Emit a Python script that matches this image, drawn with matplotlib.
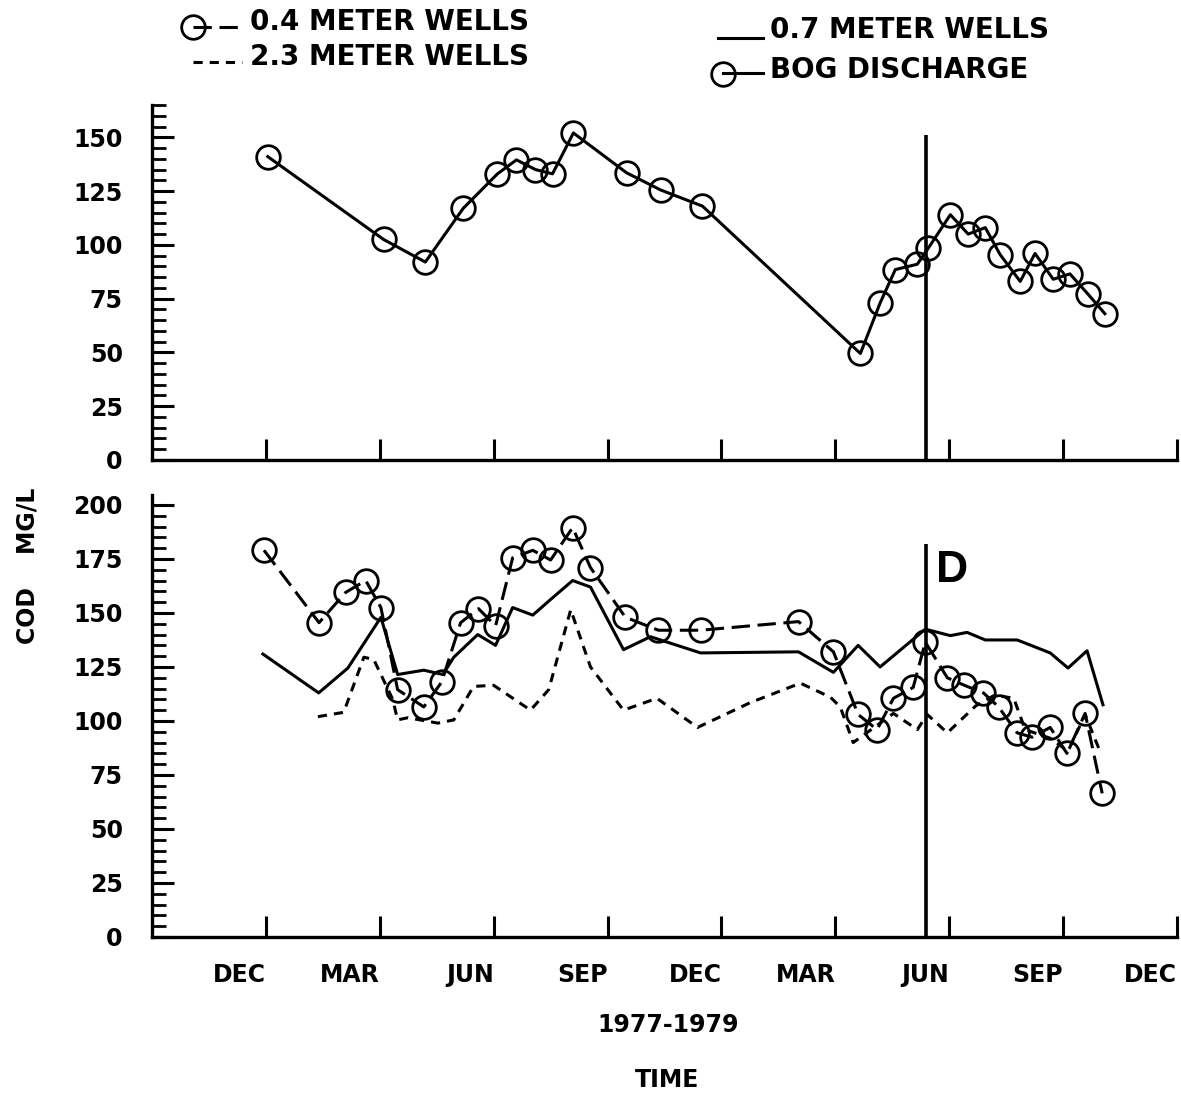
import matplotlib
matplotlib.use("Agg")
from matplotlib import pyplot as plt
from matplotlib.lines import Line2D
from matplotlib.ticker import MultipleLocator

plt.rcParams['font.family'] = 'DejaVu Sans'
plt.rcParams['font.weight'] = 'bold'

# months counted from the first DEC tick
month_ticks = [0, 3, 6, 9, 12, 15, 18, 21, 24]
month_labels = ['DEC', 'MAR', 'JUN', 'SEP', 'DEC', 'MAR', 'JUN', 'SEP', 'DEC']
event_month = 17.4  # "D"
event_top_bog = 151
event_top_wells = 182

# bog discharge (top panel)
bog_m = [0.05, 3.1, 4.2, 5.2, 6.1, 6.6, 7.1, 7.55, 8.1, 9.5, 10.4, 11.5, 15.66, 16.18,
         16.58, 17.16, 17.45, 18.03, 18.5, 18.95, 19.34, 19.87, 20.26, 20.74, 21.18, 21.66, 22.1]
bog_v = [141, 102.5, 92, 117, 133, 139.5, 135, 133, 152, 133.5, 125.5, 118, 49.5, 73,
         88.5, 91, 98.5, 114, 105, 108, 95.5, 83, 96, 84, 86.5, 77, 68]

# 0.4 meter wells
w04_m = [-0.05, 1.4, 2.1, 2.63, 3.03, 3.47, 4.16, 4.63, 5.13, 5.6, 6.05, 6.5, 7.03, 7.5,
         8.08, 8.55, 9.47, 10.34, 11.45, 14.03, 14.95, 15.6, 16.1, 16.53, 17.05, 17.37,
         17.95, 18.4, 18.9, 19.3, 19.79, 20.18, 20.66, 21.1, 21.58, 22.03]
w04_v = [179, 145.5, 159.5, 165, 152.5, 114.5, 106.5, 118, 145.5, 152, 144, 175.5, 179, 174.5,
         189.5, 171, 148, 142, 142, 146, 132, 103, 96, 110.5, 115.5, 136.5,
         120, 116.5, 113, 106.5, 94.5, 92.5, 97, 85, 103.5, 66.5]

# 0.7 meter wells
w07_m = [-0.08, 1.39, 2.16, 3.03, 3.47, 4.16, 4.66, 4.95, 5.58, 6.05, 6.5, 7.03, 7.55, 8.08,
         8.55, 9.42, 10.13, 11.45, 14.03, 14.95, 15.6, 16.18, 17.37, 18.03, 18.47, 18.95,
         19.79, 20.66, 21.13, 21.63, 22.05]
w07_v = [131, 113, 124.5, 148, 121.5, 123.5, 121.5, 129.5, 140, 135, 152.5, 149, 157, 165,
         162, 133, 139, 131.5, 132, 122.5, 135, 125, 142.5, 139.5, 141, 137.5,
         137.5, 131.5, 124.5, 132.5, 107.5]

# 2.3 meter wells
w23_m = [1.37, 2.05, 2.58, 2.84, 3.34, 3.47, 3.74, 4.53, 4.95, 5.47, 6.0, 6.97, 7.45, 8.03,
         8.55, 9.42, 10.3, 11.37, 12.76, 14.08, 14.87, 15.13, 15.47, 16.18, 16.53, 17.16,
         17.42, 17.95, 18.7, 19.2, 19.7, 20.0, 20.66, 21.13, 21.58, 21.97]
w23_v = [102, 104, 129.5, 128.5, 110, 100.5, 101.5, 99, 100.5, 116, 116.5, 105, 114.5, 151.5,
         125, 105, 110.5, 97, 108.5, 117.5, 111, 106.5, 90, 99, 103.5, 96,
         103, 94.5, 107, 112, 110.5, 96, 92, 86, 103, 86]

W, H = 1181, 1093
fig = plt.figure(figsize=(W / 100, H / 100), dpi=100)

LW = 2.2
DASH04 = (0, (6, 2.5))
DASH23 = (0, (3, 2.3))
circ = dict(marker='o', markersize=17, markerfacecolor='none', markeredgewidth=2.0,
            markeredgecolor='black')


def style_axes(ax, ymax, labels=True):
    ax.set_xlim(-3, 24)
    ax.set_ylim(0, ymax)
    for s in ['top', 'right']:
        ax.spines[s].set_visible(False)
    for s in ['left', 'bottom']:
        ax.spines[s].set_linewidth(2.4)
    ax.set_xticks(month_ticks)
    if labels:
        ax.set_xticklabels(month_labels, ha='right')
    else:
        ax.set_xticklabels([])
    ax.yaxis.set_major_locator(MultipleLocator(25))
    ax.yaxis.set_minor_locator(MultipleLocator(5))
    ax.tick_params(axis='y', which='major', direction='in', length=16, width=2.2,
                   labelsize=17, pad=21)
    ax.tick_params(axis='y', which='minor', direction='in', length=10, width=2.0)
    ax.tick_params(axis='x', which='major', direction='in', length=15, width=2.2,
                   labelsize=17, pad=19)


ax1 = fig.add_axes([152 / W, 1 - 460 / H, 1025 / W, 355 / H])
ax1.plot(bog_m, bog_v, color='black', lw=LW, **circ)
ax1.vlines(event_month, 0, event_top_bog, color='black', lw=2.6)
style_axes(ax1, 165, labels=False)

ax2 = fig.add_axes([152 / W, 1 - 937 / H, 1025 / W, 442 / H])
ax2.plot(w07_m, w07_v, color='black', lw=LW)
ax2.plot(w23_m, w23_v, color='black', lw=LW, linestyle=DASH23)
ax2.plot(w04_m, w04_v, color='black', lw=LW, linestyle=DASH04, **circ)
ax2.vlines(event_month, 0, event_top_wells, color='black', lw=2.6)
ax2.text(event_month + 0.25, 160, 'D', fontsize=32, fontweight='bold',
         family='Liberation Sans', va='bottom', ha='left')
style_axes(ax2, 204.6, labels=True)

fig.text(28 / W, 1 - 566 / H, 'COD    MG/L', rotation=90, ha='center', va='center',
         fontsize=17)
fig.text(668 / W, 1 - 1025 / H, '1977-1979', ha='center', va='center', fontsize=17)
fig.text(667 / W, 1 - 1080 / H, 'TIME', ha='center', va='center', fontsize=17)


# legend drawn by hand to copy the plotter layout
def fx(px):
    return px / W


def fy(py):
    return 1 - py / H


fig.add_artist(Line2D([fx(193), fx(242)], [fy(27), fy(27)], color='black', lw=LW,
                      linestyle=DASH04))
fig.add_artist(Line2D([fx(193)], [fy(27)], color='black', lw=0, **circ))
fig.text(fx(250), fy(22), '0.4 METER WELLS', va='center', ha='left', fontsize=20)
fig.add_artist(Line2D([fx(193), fx(242)], [fy(62), fy(62)], color='black', lw=LW,
                      linestyle=DASH23))
fig.text(fx(250), fy(57), '2.3 METER WELLS', va='center', ha='left', fontsize=20)
fig.add_artist(Line2D([fx(718), fx(763)], [fy(38), fy(38)], color='black', lw=LW))
fig.text(fx(770), fy(30), '0.7 METER WELLS', va='center', ha='left', fontsize=20)
fig.add_artist(Line2D([fx(723), fx(763)], [fy(73), fy(73)], color='black', lw=LW))
fig.add_artist(Line2D([fx(723)], [fy(74)], color='black', lw=0, **circ))
fig.text(fx(770), fy(70), 'BOG DISCHARGE', va='center', ha='left', fontsize=20)

fig.savefig('out.png', dpi=100)
